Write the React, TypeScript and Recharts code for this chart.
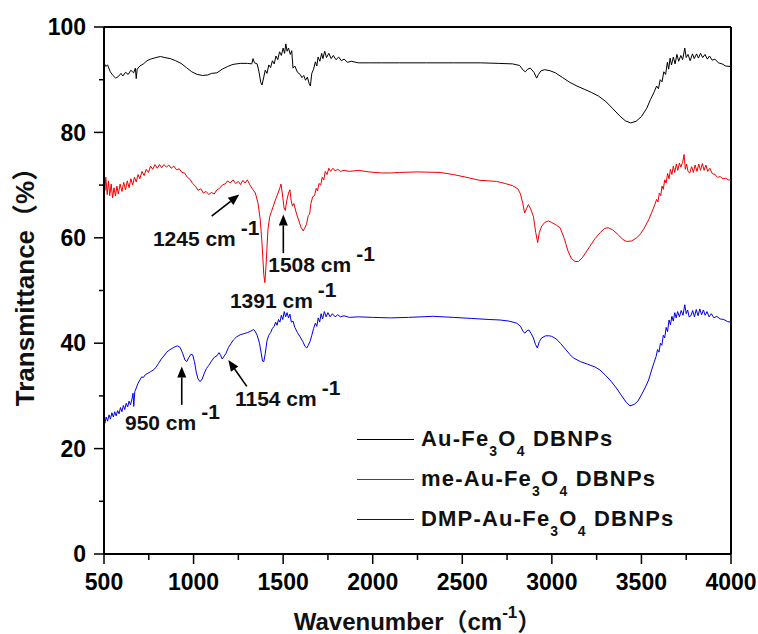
import React from "react";
import {
  Legend,
  Line,
  LineChart,
  ReferenceDot,
  ReferenceLine,
  XAxis,
  YAxis,
} from "recharts";

const FONT = "'Liberation Sans', Arial, 'Noto Sans CJK SC', sans-serif";

// [wavenumber cm-1, transmittance %]
const auFe3O4: [number, number][] = [
  [500, 93.2], [510, 92.5], [520, 92.8], [535, 91.5], [550, 90.8], [565, 90.3], [580, 90.6], [595, 91.2],
  [605, 90.7], [620, 91.4], [635, 91.0], [650, 91.8], [665, 91.3], [675, 92.2], [680, 90.2], [685, 92.0],
  [700, 92.6], [720, 93.0], [740, 93.6], [760, 93.9], [790, 94.2], [815, 94.4], [840, 94.2], [870, 94.0],
  [900, 93.6], [930, 93.1], [960, 92.3], [990, 91.5], [1020, 91.0], [1050, 90.8], [1080, 90.9], [1100, 91.2],
  [1130, 91.3], [1160, 92.0], [1190, 92.5], [1220, 92.9], [1260, 93.1], [1300, 93.1], [1325, 93.0], [1332, 94.0],
  [1340, 93.2], [1355, 93.0], [1365, 91.5], [1375, 89.5], [1382, 89.0], [1392, 90.5], [1400, 91.8], [1410, 91.2],
  [1420, 92.8], [1430, 92.3], [1440, 93.6], [1450, 93.0], [1460, 94.5], [1470, 93.8], [1480, 95.3], [1490, 94.6],
  [1500, 96.0], [1508, 95.0], [1515, 96.8], [1522, 95.4], [1530, 96.0], [1540, 94.8], [1548, 95.5], [1555, 92.2],
  [1565, 92.6], [1580, 91.4], [1595, 91.0], [1605, 90.4], [1615, 90.8], [1625, 89.9], [1635, 90.5], [1645, 89.3],
  [1652, 88.8], [1660, 91.2], [1670, 92.0], [1680, 93.4], [1688, 92.6], [1695, 94.3], [1705, 93.5], [1715, 95.0],
  [1722, 94.0], [1732, 95.4], [1742, 94.2], [1755, 95.0], [1768, 94.0], [1780, 94.6], [1795, 93.8], [1810, 94.3],
  [1825, 93.6], [1840, 93.9], [1860, 93.3], [1880, 93.5], [1920, 93.2], [1980, 93.2], [2050, 93.2], [2150, 93.2],
  [2300, 93.2], [2450, 93.2], [2600, 93.2], [2700, 93.1], [2780, 93.0], [2820, 92.7], [2840, 91.8], [2852, 91.5],
  [2865, 92.0], [2880, 92.2], [2900, 91.4], [2915, 90.3], [2925, 91.0], [2940, 91.7], [2960, 91.9], [2990, 91.7],
  [3020, 91.3], [3060, 90.4], [3100, 89.5], [3140, 88.8], [3180, 88.2], [3220, 87.6], [3260, 86.9], [3300, 85.9],
  [3340, 84.5], [3380, 83.1], [3410, 82.2], [3440, 81.8], [3470, 82.1], [3500, 83.0], [3530, 84.6], [3550, 86.2],
  [3570, 87.6], [3585, 88.8], [3595, 88.3], [3605, 90.0], [3615, 89.6], [3625, 91.5], [3635, 91.0], [3645, 93.3],
  [3652, 92.0], [3660, 94.1], [3668, 92.8], [3678, 94.3], [3688, 93.0], [3698, 94.8], [3708, 93.5], [3720, 94.6],
  [3730, 93.8], [3742, 96.0], [3750, 94.2], [3760, 94.8], [3772, 93.6], [3785, 94.9], [3795, 94.0], [3808, 94.9],
  [3818, 94.1], [3830, 95.0], [3842, 94.2], [3855, 94.8], [3868, 93.9], [3880, 94.5], [3895, 93.7], [3910, 93.9],
  [3930, 93.2], [3950, 93.0], [3970, 92.6], [4000, 92.5],
];

const meAuFe3O4: [number, number][] = [
  [500, 71.0], [505, 69.0], [510, 71.5], [518, 68.2], [525, 70.8], [532, 68.0], [540, 70.2], [548, 67.6],
  [556, 69.5], [564, 67.9], [572, 69.8], [580, 68.3], [590, 70.2], [600, 68.8], [610, 70.5], [620, 69.1],
  [630, 70.8], [640, 69.5], [650, 71.2], [660, 70.0], [670, 71.5], [680, 70.6], [690, 72.0], [700, 71.2],
  [712, 72.6], [724, 71.8], [736, 73.0], [748, 72.4], [760, 73.6], [772, 73.0], [785, 73.9], [797, 73.2],
  [810, 73.9], [822, 73.3], [835, 73.9], [848, 73.4], [862, 73.8], [875, 73.2], [890, 73.6], [905, 72.9],
  [920, 73.1], [935, 72.4], [950, 72.3], [965, 71.5], [980, 71.1], [995, 70.3], [1010, 69.8], [1025, 69.0],
  [1040, 69.3], [1055, 68.5], [1070, 68.8], [1085, 68.2], [1100, 68.6], [1115, 68.3], [1130, 69.1], [1145, 69.4],
  [1160, 70.0], [1175, 70.2], [1190, 70.8], [1205, 70.4], [1220, 71.0], [1235, 70.3], [1250, 70.7], [1262, 70.1],
  [1275, 70.9], [1288, 70.4], [1300, 71.0], [1315, 70.0], [1330, 69.2], [1345, 68.5], [1360, 66.5], [1372, 63.5],
  [1382, 59.0], [1392, 53.0], [1398, 51.5], [1405, 55.0], [1415, 61.5], [1425, 64.0], [1435, 65.0], [1445, 66.0],
  [1460, 67.5], [1472, 68.5], [1482, 69.5], [1488, 70.2], [1495, 68.5], [1505, 65.7], [1512, 65.2], [1520, 67.0],
  [1530, 68.5], [1538, 69.1], [1545, 67.0], [1552, 66.0], [1560, 66.5], [1575, 64.5], [1590, 63.0], [1600, 62.0],
  [1612, 61.3], [1620, 61.8], [1630, 62.5], [1640, 64.2], [1648, 64.5], [1655, 66.5], [1665, 67.8], [1675, 68.0],
  [1685, 69.4], [1692, 68.9], [1700, 70.3], [1710, 70.0], [1718, 71.5], [1727, 71.0], [1735, 72.6], [1745, 72.0],
  [1755, 73.2], [1765, 72.6], [1778, 73.2], [1790, 72.7], [1805, 73.0], [1820, 72.6], [1840, 72.8], [1870, 72.6],
  [1920, 72.8], [1980, 72.5], [2050, 72.3], [2100, 72.3], [2150, 72.4], [2250, 72.5], [2376, 72.4], [2450, 72.0],
  [2520, 71.5], [2599, 70.9], [2650, 70.8], [2692, 70.7], [2740, 70.3], [2780, 69.9], [2810, 69.3], [2825, 68.3],
  [2838, 66.5], [2848, 64.7], [2858, 65.5], [2869, 66.3], [2880, 65.6], [2897, 64.1], [2910, 61.0], [2921, 59.1],
  [2930, 61.0], [2943, 62.2], [2960, 62.9], [2980, 63.2], [3000, 62.9], [3025, 62.4], [3046, 61.9], [3070, 59.8],
  [3090, 57.5], [3110, 56.0], [3130, 55.5], [3148, 55.5], [3170, 56.2], [3195, 57.5], [3213, 58.4], [3240, 59.8],
  [3270, 61.0], [3295, 61.8], [3315, 61.9], [3340, 61.5], [3370, 60.6], [3395, 59.7], [3418, 59.3], [3445, 59.4],
  [3470, 59.9], [3492, 60.6], [3515, 61.8], [3540, 63.4], [3560, 65.0], [3575, 66.3], [3585, 67.3], [3592, 66.8],
  [3600, 68.5], [3608, 68.0], [3615, 69.8], [3622, 69.2], [3630, 71.0], [3638, 70.4], [3646, 72.2], [3654, 71.2],
  [3662, 73.0], [3670, 72.0], [3678, 73.6], [3686, 72.4], [3695, 74.0], [3703, 72.8], [3712, 74.2], [3720, 73.4],
  [3730, 74.3], [3738, 75.8], [3745, 73.0], [3752, 74.0], [3760, 72.6], [3770, 72.3], [3780, 73.5], [3790, 72.4],
  [3800, 73.8], [3810, 72.6], [3820, 74.0], [3830, 72.8], [3840, 74.1], [3850, 72.8], [3860, 73.8], [3870, 72.6],
  [3882, 73.2], [3895, 72.2], [3910, 72.0], [3925, 71.5], [3940, 71.6], [3955, 71.2], [3970, 71.3], [3985, 71.0],
  [4000, 71.0],
];

const dmpAuFe3O4: [number, number][] = [
  [500, 25.5], [505, 24.8], [512, 26.0], [520, 25.2], [528, 26.4], [536, 25.6], [544, 26.8], [552, 26.0],
  [560, 27.0], [568, 26.2], [576, 27.2], [584, 26.6], [592, 27.8], [600, 27.0], [608, 28.2], [616, 27.4],
  [624, 28.6], [632, 27.9], [640, 29.0], [648, 28.3], [656, 29.4], [662, 30.5], [666, 28.0], [672, 30.8],
  [680, 31.5], [690, 32.4], [700, 33.0], [710, 33.6], [720, 33.5], [730, 34.0], [745, 34.3], [760, 34.6],
  [775, 34.9], [790, 35.4], [805, 36.2], [820, 37.0], [835, 37.6], [850, 38.3], [865, 38.7], [880, 39.0],
  [895, 39.3], [910, 39.5], [925, 39.2], [940, 38.0], [952, 36.8], [962, 36.5], [972, 37.2], [985, 37.9],
  [995, 37.8], [1005, 36.5], [1015, 34.5], [1025, 33.2], [1036, 32.7], [1048, 33.2], [1060, 34.3], [1072, 35.2],
  [1085, 35.8], [1100, 36.6], [1115, 37.3], [1130, 37.6], [1142, 38.2], [1150, 37.8], [1160, 37.0], [1168, 37.4],
  [1180, 38.0], [1195, 39.2], [1210, 40.0], [1222, 40.6], [1240, 41.2], [1260, 41.6], [1280, 41.8], [1300, 42.0],
  [1320, 42.3], [1335, 42.6], [1343, 42.3], [1355, 41.5], [1368, 40.0], [1378, 38.0], [1385, 36.6], [1392, 36.5],
  [1400, 38.0], [1410, 40.5], [1420, 41.5], [1430, 42.0], [1440, 42.8], [1450, 43.2], [1458, 44.0], [1466, 43.4],
  [1474, 44.5], [1482, 44.0], [1490, 45.3], [1498, 44.5], [1506, 46.0], [1514, 45.0], [1522, 45.8], [1530, 44.8],
  [1538, 45.5], [1546, 44.0], [1555, 44.2], [1565, 43.0], [1580, 42.0], [1595, 41.2], [1610, 40.3], [1622, 39.4],
  [1632, 39.1], [1640, 39.6], [1650, 40.3], [1660, 41.5], [1670, 42.8], [1680, 43.8], [1688, 43.2], [1696, 44.8],
  [1704, 44.0], [1712, 45.6], [1720, 44.6], [1730, 46.0], [1740, 45.0], [1750, 45.8], [1762, 45.0], [1775, 45.6],
  [1790, 45.0], [1805, 45.4], [1820, 45.0], [1840, 45.2], [1870, 44.9], [1920, 45.0], [2000, 44.9], [2100, 44.8],
  [2200, 44.9], [2338, 45.1], [2450, 44.9], [2550, 44.7], [2650, 44.5], [2711, 44.4], [2760, 44.2], [2804, 43.8],
  [2825, 43.2], [2840, 42.2], [2850, 41.9], [2862, 42.4], [2872, 42.5], [2885, 41.8], [2897, 41.0], [2908, 39.8],
  [2919, 39.1], [2930, 40.3], [2943, 41.0], [2965, 41.4], [2985, 41.4], [2999, 41.3], [3025, 40.8], [3050, 39.9],
  [3075, 38.9], [3100, 37.9], [3120, 37.2], [3160, 36.5], [3200, 36.0], [3240, 35.5], [3269, 34.9], [3300, 33.9],
  [3330, 32.8], [3360, 31.5], [3390, 30.0], [3415, 28.8], [3436, 28.1], [3460, 28.4], [3480, 29.0], [3500, 30.2],
  [3520, 31.5], [3540, 33.0], [3557, 34.9], [3570, 36.3], [3582, 37.5], [3590, 38.8], [3598, 38.3], [3606, 40.0],
  [3614, 39.6], [3622, 41.5], [3630, 41.0], [3638, 43.0], [3646, 42.2], [3654, 44.4], [3662, 43.5], [3670, 45.1],
  [3678, 44.2], [3686, 45.8], [3694, 44.8], [3702, 46.0], [3712, 45.0], [3722, 46.2], [3732, 45.3], [3742, 47.3],
  [3750, 45.6], [3758, 46.3], [3766, 45.0], [3776, 45.2], [3786, 46.2], [3796, 45.0], [3806, 46.4], [3816, 45.2],
  [3826, 46.5], [3836, 45.4], [3846, 46.3], [3856, 45.3], [3866, 46.0], [3878, 45.0], [3890, 45.6], [3905, 44.8],
  [3920, 45.1], [3940, 44.6], [3960, 44.5], [3980, 44.1], [4000, 44.0],
];

const seriesNames = ["Au-Fe3O4 DBNPs", "me-Au-Fe3O4 DBNPs", "DMP-Au-Fe3O4 DBNPs"];
const seriesColors = ["#000000", "#ee0000", "#0000e6"];

const xTicks = [500, 750, 1000, 1250, 1500, 1750, 2000, 2250, 2500, 2750, 3000, 3250, 3500, 3750, 4000];
const yTicks = [0, 10, 20, 30, 40, 50, 60, 70, 80, 90, 100];

// peak annotations: label, label anchor, arrow tail, arrow tip (data coords)
const peakLabels = ["1245", "1508", "1391", "950", "1154"];
const peakTextAt: [number, number][] = [[773, 58.4], [1417, 53.5], [1203, 46.6], [617, 23.6], [1231, 28.0]];
const arrowTail: ([number, number] | null)[] = [[1101, 64.1], [1501, 57.1], null, [934, 28.3], [1297, 31.8]];
const arrowTip: ([number, number] | null)[] = [[1255, 68.2], [1501, 64.4], null, [934, 35.6], [1194, 36.8]];

const toRows = (pts: [number, number][]) => pts.map(([wn, t]) => ({ wn, t }));
const allSeries = [auFe3O4, meAuFe3O4, dmpAuFe3O4].map(toRows);

const XTick = (props: any) => {
  const { x, y, payload } = props;
  const major = payload.value % 500 === 0;
  return (
    <g>
      <line x1={x} y1={y} x2={x} y2={y + (major ? 10 : 6)} stroke="#000" strokeWidth={1.5} />
      {major && (
        <text x={x} y={y + 36} textAnchor="middle" fontFamily={FONT} fontWeight={700} fontSize={23} fill="#000">
          {payload.value}
        </text>
      )}
    </g>
  );
};

const YTick = (props: any) => {
  const { x, y, payload } = props;
  const major = payload.value % 20 === 0;
  return (
    <g>
      <line x1={x} y1={y} x2={x - (major ? 10 : 5)} y2={y} stroke="#000" strokeWidth={1.5} />
      {major && (
        <text x={x - 18} y={y} dy="0.36em" textAnchor="end" fontFamily={FONT} fontWeight={700} fontSize={23} fill="#000">
          {payload.value}
        </text>
      )}
    </g>
  );
};

const Arrow = (props: any) => {
  const { x1, y1, x2, y2 } = props;
  const ang = Math.atan2(y2 - y1, x2 - x1);
  const len = 11;
  const half = 4.5;
  const bx = x2 - len * Math.cos(ang);
  const by = y2 - len * Math.sin(ang);
  const px = -Math.sin(ang) * half;
  const py = Math.cos(ang) * half;
  return (
    <g>
      <line x1={x1} y1={y1} x2={bx} y2={by} stroke="#000" strokeWidth={1.6} />
      <polygon points={`${x2},${y2} ${bx + px},${by + py} ${bx - px},${by - py}`} fill="#000" />
    </g>
  );
};

const peakText = (label: string) => (props: any) => (
  <text x={props.cx} y={props.cy} fontFamily={FONT} fontWeight={700} fontSize={21} fill="#111">
    {label} cm
    <tspan dx={5} dy={-11}>-1</tspan>
  </text>
);

const chem = (name: string) =>
  name.split(/(\d)/).map((part, i) =>
    /\d/.test(part) ? (
      <span key={i} style={{ fontSize: 14, position: "relative", top: 10 }}>
        {part}
      </span>
    ) : (
      <span key={i}>{part}</span>
    )
  );

const renderLegend = (props: any) => {
  const items = [...(props.payload || [])].sort(
    (a: any, b: any) => seriesNames.indexOf(a.value) - seriesNames.indexOf(b.value)
  );
  return (
    <div style={{ fontFamily: FONT, fontWeight: 700, fontSize: 22, letterSpacing: 1.2, color: "#111" }}>
      {items.map((entry: any) => (
        <div key={entry.value} style={{ display: "flex", alignItems: "center", height: 40, whiteSpace: "nowrap" }}>
          <span style={{ display: "inline-block", width: 57, borderTop: `1px solid ${entry.color}`, marginRight: 7 }} />
          <span>{chem(entry.value)}</span>
        </div>
      ))}
    </div>
  );
};

export default function App() {
  return (
    <div style={{ position: "absolute", left: 0, top: 0, background: "#fff" }}>
      <LineChart width={758} height={634} margin={{ top: 27, right: 27, left: 0, bottom: 0 }}>
        <XAxis
          type="number"
          dataKey="wn"
          domain={[500, 4000]}
          ticks={xTicks}
          interval={0}
          allowDataOverflow
          height={80}
          tickSize={0}
          tickMargin={0}
          tickLine={false}
          axisLine={{ stroke: "#000", strokeWidth: 2 }}
          tick={<XTick />}
          label={{
            content: (p: any) => {
              const vb = p.viewBox;
              return (
                <text x={vb.x + vb.width / 2} y={vb.y + 76} textAnchor="middle" fontFamily={FONT} fontWeight={700} fontSize={24} fill="#111">
                  Wavenumber（cm
                  <tspan fontSize={17} dy={-12}>-1</tspan>
                  <tspan dy={12}>）</tspan>
                </text>
              );
            },
          }}
        />
        <YAxis
          type="number"
          domain={[0, 100]}
          ticks={yTicks}
          interval={0}
          allowDataOverflow
          width={104}
          tickSize={0}
          tickMargin={0}
          tickLine={false}
          axisLine={{ stroke: "#000", strokeWidth: 2 }}
          tick={<YTick />}
          label={{
            content: (p: any) => {
              const vb = p.viewBox;
              const cy = vb.y + vb.height / 2 - 10;
              return (
                <text x={34} y={cy} transform={`rotate(-90 34 ${cy})`} textAnchor="middle" fontFamily={FONT} fontWeight={700} fontSize={26} fill="#111">
                  Transmittance（%）
                </text>
              );
            },
          }}
        />
        <ReferenceLine y={100} stroke="#000" strokeWidth={2} />
        <ReferenceLine x={4000} stroke="#000" strokeWidth={2} />
        {allSeries.map((rows, i) => (
          <Line
            key={seriesNames[i]}
            data={rows}
            dataKey="t"
            name={seriesNames[i]}
            stroke={seriesColors[i]}
            strokeWidth={1}
            dot={false}
            activeDot={false}
            isAnimationActive={false}
            type="linear"
          />
        ))}
        {peakLabels.map((label, i) =>
          arrowTail[i] && arrowTip[i] ? (
            <ReferenceLine
              key={`arrow-${label}`}
              segment={[
                { x: arrowTail[i]![0], y: arrowTail[i]![1] },
                { x: arrowTip[i]![0], y: arrowTip[i]![1] },
              ]}
              shape={Arrow}
            />
          ) : null
        )}
        {peakLabels.map((label, i) => (
          <ReferenceDot key={`txt-${label}`} x={peakTextAt[i][0]} y={peakTextAt[i][1]} r={0} shape={peakText(label)} />
        ))}
        <Legend
          layout="vertical"
          align="center"
          verticalAlign="middle"
          content={renderLegend}
          wrapperStyle={{ left: 357, top: 419, width: "auto" }}
        />
      </LineChart>
    </div>
  );
}
